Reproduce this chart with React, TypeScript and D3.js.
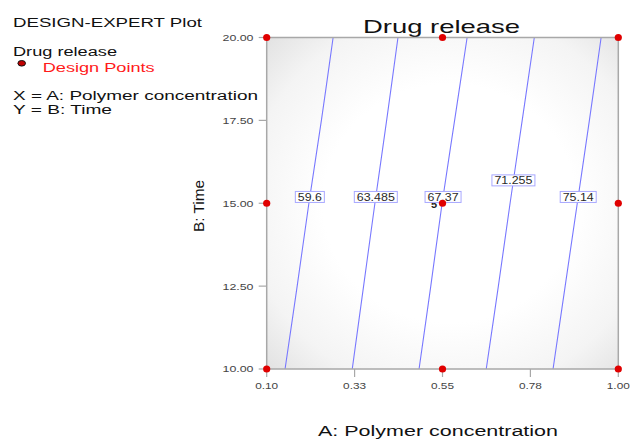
import React from "react";
import * as d3 from "d3";

// Factor ranges and axis ticks
const xDomain = [0.1, 1.0];
const yDomain = [10, 20];
const xTicks = [0.1, 0.325, 0.55, 0.775, 1.0];
const xTickLabels = ["0.10", "0.33", "0.55", "0.78", "1.00"];
const yTicks = [10, 12.5, 15, 17.5, 20];
const yTickLabels = ["10.00", "12.50", "15.00", "17.50", "20.00"];

// Contour levels of drug release, traced as A (polymer conc.) at each B (time)
const contourB = [10, 12.5, 15, 17.5, 20];
const contourLevels = ["59.6", "63.485", "67.37", "71.255", "75.14"];
const contour596 = [0.147, 0.178, 0.208, 0.240, 0.270];
const contour63485 = [0.319, 0.348, 0.377, 0.407, 0.436];
const contour6737 = [0.490, 0.520, 0.549, 0.581, 0.613];
const contour71255 = [0.662, 0.693, 0.723, 0.754, 0.785];
const contour7514 = [0.833, 0.864, 0.895, 0.926, 0.956];
const contourA = [contour596, contour63485, contour6737, contour71255, contour7514];
// Time at which each contour label sits
const labelB = [15.19, 15.19, 15.19, 15.69, 15.19];

// Design points (A, B) and replicate count at the centre
const designA = [0.1, 0.1, 0.1, 0.55, 0.55, 0.55, 1.0, 1.0, 1.0];
const designB = [10, 15, 20, 10, 15, 20, 10, 15, 20];
const centerReplicates = "5";

const FONT = "'Liberation Sans', Arial, Helvetica, sans-serif";

export default function App() {
  const x = d3.scaleLinear().domain(xDomain).range([266.7, 618.3]);
  const y = d3.scaleLinear().domain(yDomain).range([369, 37.5]);
  const [x0, x1] = x.range();
  const [y0, y1] = y.range();

  const line = d3
    .line<[number, number]>()
    .x((d) => x(d[0]))
    .y((d) => y(d[1]))
    .curve(d3.curveCatmullRom);

  const axisColor = "#a8a8a8";
  const tickText = "#444";

  return (
    <svg
      width={631}
      height={439}
      style={{ position: "absolute", left: 0, top: 0, background: "#fff" }}
      fontFamily={FONT}
    >
      <defs>
        <radialGradient id="shade" cx="0.52" cy="0.5" r="0.72">
          <stop offset="0" stopColor="#ffffff" />
          <stop offset="0.5" stopColor="#ffffff" />
          <stop offset="0.8" stopColor="#f4f4f4" />
          <stop offset="1" stopColor="#e2e2e2" />
        </radialGradient>
        <clipPath id="plotClip">
          <rect x={x0} y={y1} width={x1 - x0} height={y0 - y1} />
        </clipPath>
      </defs>

      {/* Notes on the left */}
      <text x={13} y={26.5} fontSize={12} textLength={189} lengthAdjust="spacingAndGlyphs" fill="#111">
        DESIGN-EXPERT Plot
      </text>
      <text x={13} y={56} fontSize={12} textLength={104} lengthAdjust="spacingAndGlyphs" fill="#111">
        Drug release
      </text>
      <ellipse cx={21.7} cy={63.3} rx={3.8} ry={2.8} fill="#c00000" stroke="#111" strokeWidth={1} />
      <text x={42.7} y={71.5} fontSize={12} textLength={112} lengthAdjust="spacingAndGlyphs" fill="#ff1a1a">
        Design Points
      </text>
      <text x={13} y={100} fontSize={12} textLength={245} lengthAdjust="spacingAndGlyphs" fill="#111">
        X = A: Polymer concentration
      </text>
      <text x={13} y={113.5} fontSize={12} textLength={99} lengthAdjust="spacingAndGlyphs" fill="#111">
        Y = B: Time
      </text>

      {/* Title */}
      <text x={441.5} y={33} fontSize={18.5} textAnchor="middle" textLength={157} lengthAdjust="spacingAndGlyphs" fill="#111">
        Drug release
      </text>

      {/* Plot area */}
      <rect x={x0} y={y1} width={x1 - x0} height={y0 - y1} fill="url(#shade)" />

      {/* Contour lines */}
      <g clipPath="url(#plotClip)">
        {contourA.map((aVals, i) => (
          <path
            key={contourLevels[i]}
            d={line(aVals.map((a, j) => [a, contourB[j]] as [number, number])) || ""}
            fill="none"
            stroke="#7878ff"
            strokeWidth={1.1}
          />
        ))}
      </g>

      {/* Frame */}
      <rect x={x0} y={y1} width={x1 - x0} height={y0 - y1} fill="none" stroke={axisColor} strokeWidth={1.5} />

      {/* Y axis ticks */}
      {yTicks.map((t, i) => (
        <g key={"y" + t}>
          <line x1={x0 - 8} x2={x0} y1={y(t)} y2={y(t)} stroke={axisColor} strokeWidth={1.2} />
          <text
            x={253.5}
            y={y(t) + 3.4}
            fontSize={9.5}
            textAnchor="end"
            textLength={31}
            lengthAdjust="spacingAndGlyphs"
            fill={tickText}
          >
            {yTickLabels[i]}
          </text>
        </g>
      ))}

      {/* X axis ticks */}
      {xTicks.map((t, i) => (
        <g key={"x" + t}>
          <line x1={x(t)} x2={x(t)} y1={y0} y2={y0 + 8} stroke={axisColor} strokeWidth={1.2} />
          <text
            x={x(t)}
            y={388.5}
            fontSize={9.5}
            textAnchor="middle"
            textLength={23}
            lengthAdjust="spacingAndGlyphs"
            fill={tickText}
          >
            {xTickLabels[i]}
          </text>
        </g>
      ))}

      {/* Axis titles */}
      <text x={438} y={436} fontSize={14} textAnchor="middle" textLength={240} lengthAdjust="spacingAndGlyphs" fill="#111">
        A: Polymer concentration
      </text>
      <text
        transform={`translate(203.5, 206) rotate(-90)`}
        fontSize={14}
        textAnchor="middle"
        textLength={52}
        lengthAdjust="spacingAndGlyphs"
        fill="#111"
      >
        B: Time
      </text>

      {/* Replicate count beside the centre point, partly under the contour label */}
      <text x={434} y={208} fontSize={11} fontWeight="bold" textAnchor="middle" fill="#222">
        {centerReplicates}
      </text>

      {/* Contour labels */}
      {contourA.map((aVals, i) => {
        const a = d3.scaleLinear().domain(contourB).range(aVals)(labelB[i]);
        const cx = x(a);
        const cy = y(labelB[i]);
        const n = contourLevels[i].length;
        const w = 7 * n + 1;
        return (
          <g key={"lab" + i}>
            <rect x={cx - w / 2} y={cy - 5.5} width={w} height={11} fill="#fff" stroke="#a8a8ff" strokeWidth={1} />
            <text
              x={cx}
              y={cy + 3.8}
              fontSize={10.5}
              textAnchor="middle"
              textLength={w - 5}
              lengthAdjust="spacingAndGlyphs"
              fill="#2a2a2a"
            >
              {contourLevels[i]}
            </text>
          </g>
        );
      })}

      {/* Design points */}
      {designA.map((a, i) => (
        <circle key={"dp" + i} cx={x(a)} cy={y(designB[i])} r={3.6} fill="#e00000" />
      ))}
    </svg>
  );
}
